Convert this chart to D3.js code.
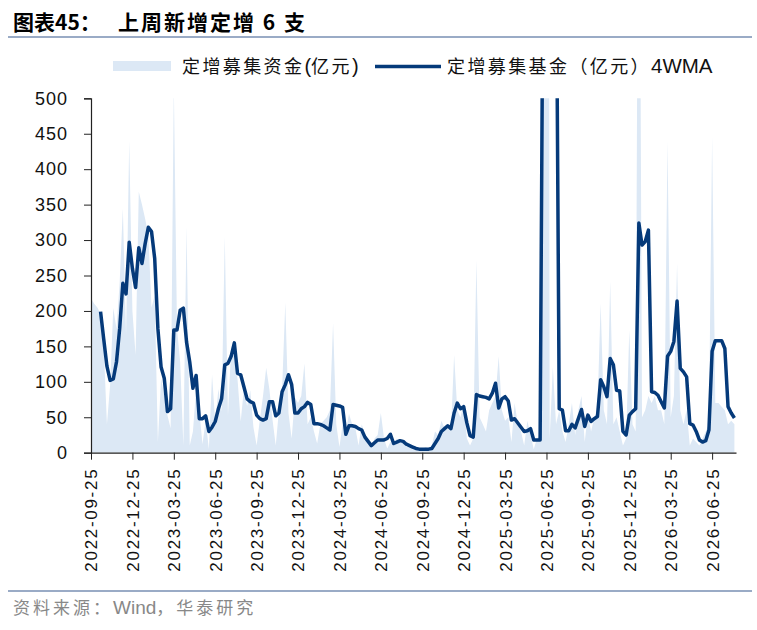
<!DOCTYPE html>
<html lang="zh">
<head>
<meta charset="UTF-8">
<title>上周新增定增</title>
<script src="https://cdn.jsdelivr.net/npm/d3@7"></script>
<style>
body { margin: 0; background: #fff; }
text { font-family: "Liberation Sans", Arial, "Noto Sans CJK SC", sans-serif; }
</style>
</head>
<body>
<script>
// x 轴刻度标签（每13周一个）
var tickLabels = ["2022-09-25","2022-12-25","2023-03-25","2023-06-25","2023-09-25","2023-12-25",
  "2024-03-25","2024-06-25","2024-09-25","2024-12-25","2025-03-25","2025-06-25",
  "2025-09-25","2025-12-25","2026-03-25","2026-06-25"];
// 定增募集资金(亿元)，每周
var fundRaised = [218,210,205,196,150,40,95,204,175,240,345,166,440,200,138,368,350,330,307,205,
  222,15,105,81,53,34,520,175,128,10,319,10,30,90,60,12,46,5,110,44,
  90,58,305,52,150,134,104,44,90,66,88,36,10,46,80,120,90,46,10,60,
  90,212,56,20,78,70,80,126,40,50,30,13,40,45,50,60,183,40,8,40,
  30,55,40,35,10,40,25,15,8,20,25,56,20,6,15,10,20,15,18,8,
  10,5,3,4,5,8,6,10,30,25,45,35,40,30,138,60,50,70,20,10,
  20,272,50,40,30,60,70,80,136,60,45,50,15,70,40,30,10,45,25,5,
  20,25,3000,3000,20,121,40,60,30,15,40,70,25,60,80,15,55,30,50,60,
  211,60,40,242,40,50,30,10,20,173,40,30,1100,50,60,80,70,80,60,60,
  40,440,50,80,267,60,40,60,10,20,15,10,20,30,40,446,70,70,65,60,
  40,45,40];
// 定增募集基金（亿元）4WMA
var ma4 = [null,null,null,199,160,122,102,104,128,175,239,224,297,260,233,289,267,295,318,312,
  274,175,121,105,58,62,173,173,201,204,156,128,91,109,48,48,52,30,36,44,
  62,76,124,126,136,155,112,110,93,76,72,70,53,48,46,48,72,72,52,56,
  86,96,110,96,56,56,62,65,71,68,41,41,40,38,35,32,68,67,66,64,
  26,38,38,37,34,32,22,16,10,14,18,18,18,20,26,13,15,17,16,12,
  10,8,6,5,5,5,5,6,13,20,30,34,38,34,56,70,62,65,42,24,
  22,82,80,79,78,76,84,98,63,76,79,73,46,48,42,36,30,31,34,18,
  18,18,760,1510,1515,1510,765,62,60,31,31,40,35,48,61,37,53,44,48,51,
  103,93,79,133,124,88,87,30,25,53,58,62,324,293,298,314,86,85,81,72,
  63,136,143,157,214,119,114,107,41,39,30,18,15,17,32,143,158,158,158,147,
  65,56,49];
var yTicks = [0,50,100,150,200,250,300,350,400,450,500];

var width = 757, height = 630;
var plotL = 91, plotR = 736, plotT = 98.3, plotB = 452.7;
var darkBlue = "#053a7a", lightBlue = "#dce8f5";

var svg = d3.select("body").append("svg").attr("width", width).attr("height", height);

var x = d3.scaleLinear().domain([0, 202.5]).range([plotL, plotR]);
var y = d3.scaleLinear().domain([0, 500]).range([plotB, plotT]);

// 中文部分加字距，英文数字部分不加
function mixedText(sel, parts, cjkSize, cjkGap, latinSize) {
  parts.forEach(function(p) {
    var t = sel.append("tspan").text(p[0]);
    if (p[1]) t.style("font-size", cjkSize + "px").style("letter-spacing", cjkGap + "px");
    else t.style("font-size", latinSize + "px").style("letter-spacing", "0px");
  });
}

// 标题
var cjk = "'Noto Sans CJK SC', sans-serif";
svg.append("text").attr("x", 13).attr("y", 30)
  .style("font-family", cjk).style("font-weight", "bold").style("font-size", "21px")
  .text("图表45：");
svg.append("text").attr("x", 118).attr("y", 30)
  .style("font-family", cjk).style("font-weight", "bold").style("font-size", "21px")
  .style("letter-spacing", "2px")
  .text("上周新增定增 6 支");
svg.append("line").attr("x1", 8).attr("x2", 752).attr("y1", 37).attr("y2", 37)
  .attr("stroke", "#9aabc6").attr("stroke-width", 2);

// 图例
svg.append("rect").attr("x", 113).attr("y", 61).attr("width", 58).attr("height", 10).attr("fill", lightBlue);
svg.append("text").attr("x", 182).attr("y", 73).attr("fill", "#111")
  .call(mixedText, [["定增募集资金", true], ["(", false], ["亿元", true], [")", false]], 18, 2.4, 20);
svg.append("line").attr("x1", 375).attr("x2", 441).attr("y1", 66.5).attr("y2", 66.5)
  .attr("stroke", darkBlue).attr("stroke-width", 3.5);
svg.append("text").attr("x", 447).attr("y", 73).attr("fill", "#111")
  .call(mixedText, [["定增募集基金（亿元）", true], ["4WMA", false]], 18, 2.4, 20.5);

// 裁剪区域
svg.append("clipPath").attr("id", "plot").append("rect")
  .attr("x", plotL).attr("y", plotT).attr("width", plotR - plotL).attr("height", plotB - plotT);

var g = svg.append("g").attr("clip-path", "url(#plot)");

var area = d3.area().x(function(d, i) { return x(i); }).y0(y(0)).y1(function(d) { return y(d); });
g.append("path").datum(fundRaised).attr("d", area).attr("fill", lightBlue);

var line = d3.line().defined(function(d) { return d != null; })
  .x(function(d, i) { return x(i); }).y(function(d) { return y(d); });
g.append("path").datum(ma4).attr("d", line).attr("fill", "none")
  .attr("stroke", darkBlue).attr("stroke-width", 3.5).attr("stroke-linejoin", "round");

// y 轴
var yAxis = svg.append("g").attr("transform", "translate(" + plotL + ",0)")
  .call(d3.axisLeft(y).tickValues(yTicks).tickSize(7).tickPadding(16).tickFormat(d3.format("d")));
yAxis.select(".domain").attr("stroke", "#222").attr("stroke-width", 1.2);
yAxis.selectAll(".tick line").attr("stroke", "#222");
yAxis.selectAll("text").style("font-size", "18px").style("letter-spacing", "1px").attr("fill", "#111")
  .style("font-family", "'Liberation Sans', Arial, sans-serif");

// x 轴
var xAxis = svg.append("g").attr("transform", "translate(0," + plotB + ")")
  .call(d3.axisBottom(x).tickValues(d3.range(0, 196, 13)).tickSize(7).tickSizeOuter(0)
    .tickFormat(function(d, i) { return tickLabels[i]; }));
xAxis.select(".domain").attr("stroke", "#222").attr("stroke-width", 1.2);
xAxis.selectAll(".tick line").attr("stroke", "#222");
xAxis.selectAll("text").style("font-size", "17px").style("letter-spacing", "1.7px").attr("fill", "#111")
  .style("font-family", "'Liberation Sans', Arial, sans-serif")
  .attr("transform", "rotate(-90)").attr("text-anchor", "end")
  .attr("x", -15).attr("y", 0).attr("dy", "0.35em");

// 资料来源
svg.append("line").attr("x1", 8).attr("x2", 752).attr("y1", 591).attr("y2", 591)
  .attr("stroke", "#9aabc6").attr("stroke-width", 2);
svg.append("text").attr("x", 13).attr("y", 614).attr("fill", "#888")
  .call(mixedText, [["资料来源：", true], ["Wind", false], ["，华泰研究", true]], 17, 3, 19);
</script>
</body>
</html>
